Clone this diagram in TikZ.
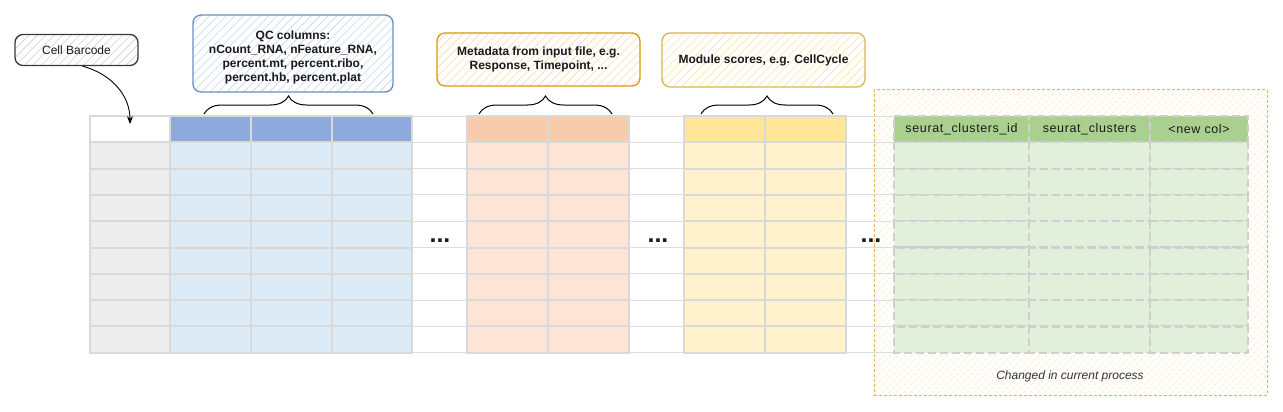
\documentclass[tikz,border=0pt]{standalone}
\usepackage{fontspec}
\setmainfont{Liberation Sans}
\usetikzlibrary{patterns.meta,decorations.pathreplacing,arrows.meta}
\definecolor{txt}{HTML}{1A1A1A}
\definecolor{txttwo}{HTML}{333333}
\definecolor{gridc}{HTML}{D9D9D9}
\definecolor{gridd}{HTML}{CFCFCF}
\definecolor{gridl}{HTML}{DDDDDD}
\definecolor{gry}{HTML}{EDEDED}
\definecolor{bh}{HTML}{8EA9DB}
\definecolor{bd}{HTML}{DDEBF7}
\definecolor{oh}{HTML}{F8CBAD}
\definecolor{od}{HTML}{FCE4D6}
\definecolor{yh}{HTML}{FFE699}
\definecolor{yd}{HTML}{FFF2CC}
\definecolor{gh}{HTML}{A9D08E}
\definecolor{gd}{HTML}{E2EFDA}
\definecolor{cbline}{HTML}{3A3A3A}
\definecolor{cbhatch}{HTML}{D0D0D0}
\definecolor{qcline}{HTML}{6C8EBF}
\definecolor{qchatch}{HTML}{C4D6EF}
\definecolor{mdline}{HTML}{D79B00}
\definecolor{mdhatch}{HTML}{FFD8A6}
\definecolor{msline}{HTML}{D6B656}
\definecolor{mshatch}{HTML}{FAE4A6}
\definecolor{chgc}{HTML}{E0B650}
\definecolor{chghatch}{HTML}{FFEDBB}
\begin{document}
\begin{tikzpicture}[x=1pt,y=-1pt,
  every node/.style={font=\fontsize{12}{14}\selectfont, text=txt},
  callout/.style 2 args={rounded corners=8pt, line width=1.3pt, inner sep=0pt, align=center,
    preaction={fill=white},
    preaction={pattern={Lines[angle=45,distance=6pt,line width=0.6pt]}, pattern color=#2},
    draw=#1},
  cellb/.style={draw=gridc, line width=2pt},
  cellg/.style={draw=gridd, line width=2.2pt, dash pattern=on 8pt off 4pt},
  wline/.style={draw=gridl, line width=1pt},
  brc/.style={decorate, decoration={brace, amplitude=18pt}, line width=1pt, draw=black},
  dotsn/.style={font=\bfseries\fontsize{25}{25}\selectfont, inner sep=0pt},
  chgbox/.style={draw=chgc, line width=1pt, dash pattern=on 3pt off 2pt,
    preaction={fill=white},
    preaction={pattern={Lines[angle=45,distance=5pt,line width=0.7pt]}, pattern color=chghatch},
    inner sep=0pt, minimum width=393pt, minimum height=305pt},
]
\useasboundingbox (0,0) rectangle (1283,412);

% changed-in-process area
\node[chgbox] (chg) at (1070.5,242.5) {};
\node[font=\itshape\fontsize{12}{14}\selectfont, text=txttwo] (chgl) at (1070,376) {Changed in current process};

% white gap columns
\foreach \xa/\xb in {412/467, 629/684, 846/893}{
  \foreach \r in {0,...,9}{
    \draw[wline] (\xa,{116+26.3*\r}) -- (\xb,{116+26.3*\r});
  }
}

% coloured columns
\foreach \xa/\xb/\hc/\dc [count=\i from 0] in {90/170/white/gry, 170/251/bh/bd, 251/332/bh/bd, 332/412/bh/bd, 467/548/oh/od, 548/629/oh/od, 684/765/yh/yd, 765/846/yh/yd}{
  \foreach \r in {1,...,8}{
    \draw[cellb, fill=\dc] (\xa,{116+26.3*\r}) rectangle (\xb,{116+26.3*(\r+1)});
  }
  \pgfmathsetmacro\cx{(\xa+\xb)/2}
  \pgfmathsetmacro\cw{\xb-\xa}
  \node[cellb, fill=\hc, inner sep=0pt, minimum width=\cw pt, minimum height=26.3pt] (h\i) at (\cx,129.15) {};
}

% green (new) columns
\foreach \xa/\xb/\lab [count=\i] in {894/1029/seurat\_clusters\_id, 1029/1150/seurat\_clusters, 1150/1248/{<new col>}}{
  \foreach \r in {1,...,8}{
    \draw[cellg, fill=gd] (\xa,{116+26.3*\r}) rectangle (\xb,{116+26.3*(\r+1)});
  }
  \pgfmathsetmacro\cx{(\xa+\xb)/2}
  \pgfmathsetmacro\cw{\xb-\xa}
  \node[cellg, fill=gh, inner sep=0pt, minimum width=\cw pt, minimum height=26.3pt,
        font=\addfontfeatures{LetterSpace=5}\fontsize{12.5}{14}\selectfont] (g\i) at (\cx,129.15) {\lab};
}

% ellipses
\node[dotsn] (d1) at (440,241) {...};
\node[dotsn] (d2) at (658,241) {...};
\node[dotsn] (d3) at (871,241) {...};

% callouts
\node[callout={cbline}{cbhatch}, minimum width=123pt, minimum height=31pt] (cb) at (76.5,50) {Cell Barcode};
\node[callout={qcline}{qchatch}, minimum width=200pt, minimum height=77pt, font=\bfseries\fontsize{12}{14}\selectfont] (qc) at (293,53.5)
  {\rule{0pt}{17pt}QC columns:\\nCount\_RNA, nFeature\_RNA,\\percent.mt, percent.ribo,\\percent.hb, percent.plat};
\node[callout={mdline}{mdhatch}, minimum width=203pt, minimum height=53pt, font=\bfseries\fontsize{12}{14}\selectfont] (md) at (538.5,59.5)
  {Metadata from input file, e.g.\\Response, Timepoint, ...};
\node[callout={msline}{mshatch}, minimum width=203pt, minimum height=54pt, font=\bfseries\fontsize{12}{14}\selectfont] (ms) at (763.5,60)
  {Module scores, e.g. CellCycle};

% braces
\coordinate (qa) at (204,114); \coordinate (qb) at (373,114);
\coordinate (ma) at (479,114); \coordinate (mb) at (612,114);
\coordinate (sa) at (701,114); \coordinate (sb) at (833,114);
\draw[brc] (qa) -- (qb);
\draw[brc] (ma) -- (mb);
\draw[brc] (sa) -- (sb);

% arrow
\draw[-{Stealth[length=8pt,width=6pt]}, line width=0.9pt] ([xshift=6pt]cb.south) to[out=-15,in=90] ([yshift=5pt]h0.center);
\end{tikzpicture}
\end{document}
